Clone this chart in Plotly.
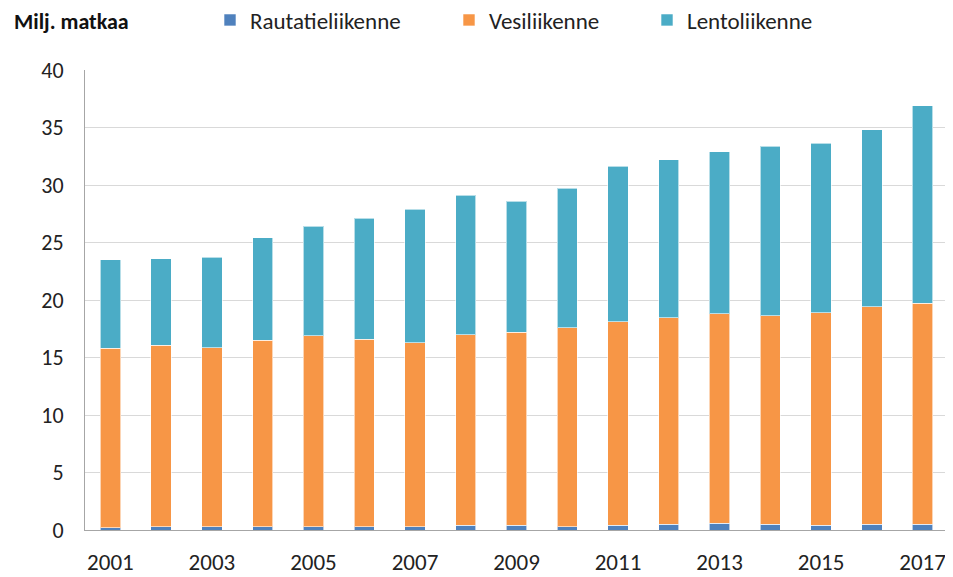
import plotly.graph_objects as go

years = list(range(2001, 2018))
rail = [0.2, 0.3, 0.3, 0.3, 0.3, 0.3, 0.3, 0.4, 0.4, 0.3, 0.4, 0.5, 0.6, 0.5, 0.4, 0.5, 0.5]
water = [15.6, 15.75, 15.55, 16.2, 16.6, 16.3, 16.0, 16.6, 16.8, 17.3, 17.7, 17.95, 18.2, 18.15, 18.5, 18.9, 19.2]
air = [7.7, 7.55, 7.85, 8.9, 9.5, 10.5, 11.6, 12.1, 11.4, 12.1, 13.55, 13.75, 14.1, 14.7, 14.75, 15.4, 17.2]

names = ["Rautatieliikenne", "Vesiliikenne", "Lentoliikenne"]
colors = ["#4F81BD", "#F79646", "#4BACC6"]
legend_ids = ["legend", "legend2", "legend3"]
FONT = "Carlito, Lato, Liberation Sans, sans-serif"

fig = go.Figure()
for name, vals, col, lg in zip(names, [rail, water, air], colors, legend_ids):
    fig.add_trace(go.Bar(x=years, y=vals, name=name, legend=lg, showlegend=True,
                         marker=dict(color=col, line=dict(color="rgba(255,255,255,0.6)", width=1))))

# page body adds an 8px offset; figure sized so the plot lands where the reference has it
W, H = 945, 569
ml, mr, mt, mb = 77, 5, 62, 47
pw, ph = W - ml - mr, H - mt - mb

def leg(xpx):
    return dict(orientation="h", x=(xpx - ml) / pw, xanchor="left", y=1 + (mt - 12) / ph, yanchor="middle",
                font=dict(size=23, family=FONT), itemwidth=30, bgcolor="rgba(0,0,0,0)", visible=True)

fig.update_layout(
    width=W, height=H, barmode="stack", bargap=0.6, showlegend=True,
    margin=dict(l=ml, r=mr, t=mt, b=mb, autoexpand=False),
    paper_bgcolor="white", plot_bgcolor="white",
    font=dict(family=FONT, color="#222222"),
    legend=leg(202), legend2=leg(441), legend3=leg(639),
    xaxis=dict(range=[2000.5, 2017.5], tickmode="linear", tick0=2001, dtick=2, showgrid=False,
               showline=True, linecolor="#A6A6A6", linewidth=1, ticks="", tickfont=dict(size=23, color="#222222"),
               ticklabelstandoff=11),
    yaxis=dict(range=[0, 40], dtick=5, showgrid=True, gridcolor="#D9D9D9", gridwidth=1,
               showline=True, linecolor="#A6A6A6", linewidth=1, ticks="", zeroline=False,
               tickfont=dict(size=22, color="#222222"), ticklabelstandoff=16),
    annotations=[dict(text="<b>Milj. matkaa</b>", xref="paper", yref="paper", x=(4 - ml) / pw, xanchor="left",
                      y=1 + (mt - 13) / ph, yanchor="middle", showarrow=False,
                      font=dict(size=22, family=FONT, color="#111111"))],
)

fig.write_html("out.html")
